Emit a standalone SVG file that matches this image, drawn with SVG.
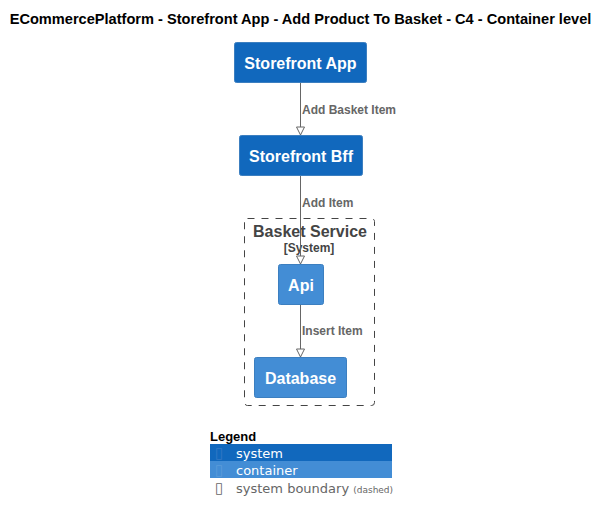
<svg xmlns="http://www.w3.org/2000/svg" width="609" height="523" viewBox="0 0 609 523">
<style>
.title{font-family:"Liberation Sans",Arial,sans-serif;font-weight:bold;font-size:14.6px;fill:#000}
.sys{fill:#1168BD;stroke:#3C7FC0;stroke-width:1}
.cont{fill:#438DD5;stroke:#3C7FC0;stroke-width:1}
.ntext{font-family:"Liberation Sans",Arial,sans-serif;font-weight:bold;font-size:16px;fill:#fff;text-anchor:middle}
.lbl{font-family:"Liberation Sans",Arial,sans-serif;font-weight:bold;font-size:12px;fill:#666}
.edge{stroke:#666;stroke-width:1;fill:none}
.bnd{fill:none;stroke:#444;stroke-width:1;stroke-dasharray:7,7}
.lg{font-family:"DejaVu Sans",sans-serif;font-size:13px}
.ico{font-family:"DejaVu Sans",sans-serif;font-size:15px}
</style>
<defs>
<marker id="arr" markerWidth="10" markerHeight="10" refX="9" refY="5" orient="auto" markerUnits="userSpaceOnUse" viewBox="0 0 10 10">
<path d="M1,1 L9,5 L1,9 Z" fill="#fff" stroke="#666" stroke-width="1"/>
</marker>
</defs>
<text class="title" x="300.5" y="24" text-anchor="middle">ECommercePlatform - Storefront App - Add Product To Basket - C4 - Container level</text>
<g id="boundary">
<rect class="bnd" x="244.5" y="218.5" width="130" height="187" rx="3"/>
<text x="310" y="237" text-anchor="middle" style="font-family:'Liberation Sans',Arial,sans-serif;font-weight:bold;font-size:16px;fill:#444">Basket Service</text>
<text x="309" y="252" text-anchor="middle" style="font-family:'Liberation Sans',Arial,sans-serif;font-weight:bold;font-size:12px;fill:#444">[System]</text>
</g>
<g id="connectors">
<path class="edge" d="M300.5,83 L300.5,135" marker-end="url(#arr)"/>
<text class="lbl" x="302" y="114">Add Basket Item</text>
<path class="edge" d="M300.5,175 L300.5,264" marker-end="url(#arr)"/>
<text class="lbl" x="302" y="207">Add Item</text>
<path class="edge" d="M300.5,304 L300.5,357" marker-end="url(#arr)"/>
<text class="lbl" x="302" y="335">Insert Item</text>
</g>
<g id="storefront-app">
<rect class="sys" x="234.5" y="42.5" width="132" height="40" rx="2"/>
<text class="ntext" x="300.5" y="68.5">Storefront App</text>
</g>
<g id="storefront-bff">
<rect class="sys" x="239.5" y="135.5" width="123" height="40" rx="2"/>
<text class="ntext" x="301" y="161.5">Storefront Bff</text>
</g>
<g id="api">
<rect class="cont" x="278.5" y="264.5" width="45" height="40" rx="2"/>
<text class="ntext" x="301" y="290.5">Api</text>
</g>
<g id="database">
<rect class="cont" x="254.5" y="357.5" width="92" height="40" rx="2"/>
<text class="ntext" x="300.5" y="383.5">Database</text>
</g>
<g id="legend">
<text x="210" y="441" style="font-family:'Liberation Sans',Arial,sans-serif;font-weight:bold;font-size:13px;fill:#000">Legend</text>
<rect x="210" y="444" width="182" height="17" fill="#1168BD"/>
<rect x="210" y="461" width="182" height="17" fill="#438DD5"/>
<text class="ico" x="215" y="458" style="fill:#3478c5">▯</text>
<text class="lg" x="236" y="458" fill="#fff">system</text>
<text class="ico" x="215" y="475" style="fill:#5a9bd9">▯</text>
<text class="lg" x="236" y="475" fill="#fff">container</text>
<text class="ico" x="215" y="493" fill="#666">▯</text>
<text class="lg" x="236" y="493" fill="#666">system boundary <tspan style="font-size:9px">(dashed)</tspan></text>
</g>
</svg>
